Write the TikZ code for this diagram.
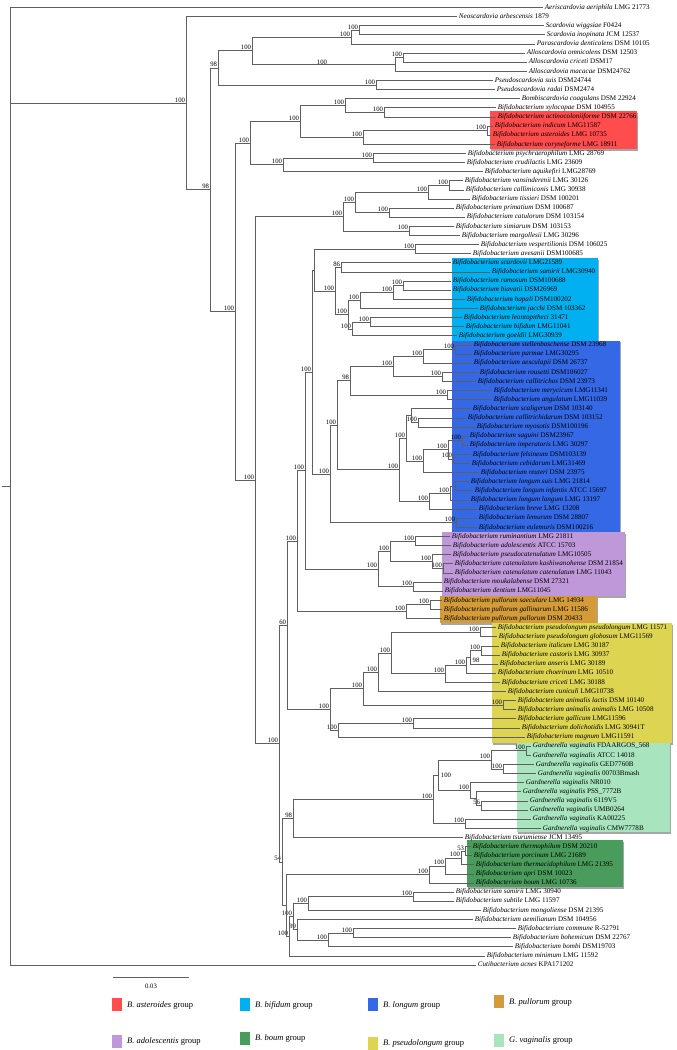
\documentclass[tikz,border=0pt]{standalone}
\usepackage{fontspec}
\setmainfont{Liberation Serif}
\usetikzlibrary{calc,shadows}
\definecolor{cRed}{RGB}{255,76,76}
\definecolor{cCyan}{RGB}{0,176,240}
\definecolor{cBlue}{RGB}{52,104,228}
\definecolor{cPurple}{RGB}{190,152,216}
\definecolor{cOrange}{RGB}{212,156,56}
\definecolor{cYellow}{RGB}{221,213,82}
\definecolor{cLGreen}{RGB}{168,228,190}
\definecolor{cGreen}{RGB}{74,156,92}
\definecolor{cLine}{RGB}{95,95,95}
\newcommand\bif[2]{\textit{Bifidobacterium #1} #2}
\newcommand\gva[1]{\textit{Gardnerella vaginalis} #1}
\newcommand\tipn[4]{\coordinate (#1) at (#2,{7.4+9.12*(#3-1)});
  \node[tiplab] (#1-l) at ([xshift=2.2pt]#1) {#4};}
\newcommand\inode[5]{\path let \p1=(#3), \p2=(#4) in ({#2pt},{(\y1+\y2)/2}) coordinate (#1);
  \draw[br] (#1) |- (#3); \draw[br] (#1) |- (#4);
  \node[bs] (#1-b) at ([xshift=-0.8pt,yshift=0.6pt]#1) {#5};}
\tikzset{
  br/.style={draw=cLine, line width=0.55pt},
  tiplab/.style={anchor=west, inner sep=0pt, text height=5.1pt, text depth=1.5pt, font=\fontsize{7.1}{8}\selectfont},
  bs/.style={anchor=south east, inner sep=0pt, font=\fontsize{6.7}{7}\selectfont},
  bsc/.style={inner sep=0pt, font=\fontsize{6.7}{7}\selectfont},
  grp/.style={drop shadow={shadow xshift=1.2pt, shadow yshift=-1.6pt, opacity=0.35, fill=black}},
  legtxt/.style={anchor=west, inner sep=0pt, font=\fontsize{8.5}{10}\selectfont},
}
\begin{document}
\begin{tikzpicture}[x=1pt,y=-1pt]
\useasboundingbox (0,0) rectangle (677,1050);
% group boxes
\fill[cRed,grp] (490,111) rectangle (637,149);
\fill[cCyan,grp] (452,258) rectangle (598,340.5);
\fill[cBlue,grp] (452,340.5) rectangle (620,532);
\fill[cPurple,grp] (442,532) rectangle (625,596);
\fill[cOrange,grp] (440,596) rectangle (597,623);
\fill[cYellow,grp] (492,623) rectangle (672,743);
\fill[cLGreen,grp] (517,743) rectangle (670,832);
\fill[cGreen,grp] (467,840) rectangle (623,887);
% tips
\tipn{t1}{542.5}{1}{\textit{Aeriscardovia aeriphila} LMG 21773}
\tipn{t2}{456.5}{2}{\textit{Neoscardovia arbescensis} 1879}
\tipn{t3}{543.5}{3}{\textit{Scardovia wiggsiae} F0424}
\tipn{t4}{544.5}{4}{\textit{Scardovia inopinata} JCM 12537}
\tipn{t5}{534.5}{5}{\textit{Parascardovia denticolens} DSM 10105}
\tipn{t6}{524.5}{6}{\textit{Alloscardovia omnicolens} DSM 12503}
\tipn{t7}{526.5}{7}{\textit{Alloscardovia criceti} DSM17}
\tipn{t8}{526.5}{8}{\textit{Alloscardovia macacae} DSM24762}
\tipn{t9}{492.5}{9}{\textit{Pseudoscardovia suis} DSM24744}
\tipn{t10}{494.5}{10}{\textit{Pseudoscardovia radai} DSM2474}
\tipn{t11}{519.5}{11}{\textit{Bombiscardovia coagulans} DSM 22924}
\tipn{t12}{495.5}{12}{\bif{xylocopae}{DSM 104955}}
\tipn{t13}{495.5}{13}{\bif{actinocoloniiforme}{DSM 22766}}
\tipn{t14}{492.5}{14}{\bif{indicum}{LMG11587}}
\tipn{t15}{490.5}{15}{\bif{asteroides}{LMG 10735}}
\tipn{t16}{494.5}{16}{\bif{coryneforme}{LMG 18911}}
\tipn{t17}{465.5}{17}{\bif{psychraerophilum}{LMG 28769}}
\tipn{t18}{464.5}{18}{\bif{crudilactis}{LMG 23609}}
\tipn{t19}{482.5}{19}{\bif{aquikefiri}{LMG28769}}
\tipn{t20}{462.5}{20}{\bif{vansinderenii}{LMG 30126}}
\tipn{t21}{463.5}{21}{\bif{callimiconis}{LMG 30938}}
\tipn{t22}{469.5}{22}{\bif{tissieri}{DSM 100201}}
\tipn{t23}{453.5}{23}{\bif{primatium}{DSM 100687}}
\tipn{t24}{464.5}{24}{\bif{catulorum}{DSM 103154}}
\tipn{t25}{453.5}{25}{\bif{simiarum}{DSM 103153}}
\tipn{t26}{459.5}{26}{\bif{margollesii}{LMG 30296}}
\tipn{t27}{478.5}{27}{\bif{vespertilionis}{DSM 106025}}
\tipn{t28}{470.5}{28}{\bif{avesanii}{DSM100685}}
\tipn{t29}{450.5}{29}{\bif{scardovii}{LMG21589}}
\tipn{t30}{489.5}{30}{\bif{samirii}{LMG30940}}
\tipn{t31}{450.5}{31}{\bif{ramosum}{DSM100688}}
\tipn{t32}{450.5}{32}{\bif{biavatii}{DSM26969}}
\tipn{t33}{464.5}{33}{\bif{hapali}{DSM100202}}
\tipn{t34}{477.5}{34}{\bif{jacchi}{DSM 103362}}
\tipn{t35}{461.5}{35}{\bif{leontopitheci}{31471}}
\tipn{t36}{463.5}{36}{\bif{bifidum}{LMG11041}}
\tipn{t37}{456.5}{37}{\bif{goeldii}{LMG30939}}
\tipn{t38}{471.5}{38}{\bif{stellenboschense}{DSM 23968}}
\tipn{t39}{471.5}{39}{\bif{parmae}{LMG30295}}
\tipn{t40}{471.5}{40}{\bif{aesculapii}{DSM 26737}}
\tipn{t41}{477.5}{41}{\bif{rousetti}{DSM106027}}
\tipn{t42}{475.5}{42}{\bif{callitrichos}{DSM 23973}}
\tipn{t43}{491.5}{43}{\bif{merycicum}{LMG11341}}
\tipn{t44}{491.5}{44}{\bif{angulatum}{LMG11039}}
\tipn{t45}{470.5}{45}{\bif{scaligerum}{DSM 103140}}
\tipn{t46}{465.5}{46}{\bif{callitrichidarum}{DSM 103152}}
\tipn{t47}{474.5}{47}{\bif{myosotis}{DSM100196}}
\tipn{t48}{467.5}{48}{\bif{saguini}{DSM23967}}
\tipn{t49}{467.5}{49}{\bif{imperatoris}{LMG 30297}}
\tipn{t50}{470.5}{50}{\bif{felsineum}{DSM103139}}
\tipn{t51}{469.5}{51}{\bif{cebidarum}{LMG31469}}
\tipn{t52}{478.5}{52}{\bif{reuteri}{DSM 23975}}
\tipn{t53}{468.5}{53}{\bif{longum suis}{LMG 21814}}
\tipn{t54}{472.5}{54}{\bif{longum infantis}{ATCC 15697}}
\tipn{t55}{468.5}{55}{\bif{longum longum}{LMG 13197}}
\tipn{t56}{476.5}{56}{\bif{breve}{LMG 13208}}
\tipn{t57}{476.5}{57}{\bif{lemurum}{DSM 28807}}
\tipn{t58}{476.5}{58}{\bif{eulemuris}{DSM100216}}
\tipn{t59}{449.5}{59}{\bif{ruminantium}{LMG 21811}}
\tipn{t60}{450.5}{60}{\bif{adolescentis}{ATCC 15703}}
\tipn{t61}{450.5}{61}{\bif{pseudocatenulatum}{LMG10505}}
\tipn{t62}{452.5}{62}{\bif{catenulatum kashiwanohense}{DSM 21854}}
\tipn{t63}{452.5}{63}{\bif{catenulatum catenulatum}{LMG 11043}}
\tipn{t64}{441.5}{64}{\bif{moukalabense}{DSM 27321}}
\tipn{t65}{442.5}{65}{\bif{dentium}{LMG11045}}
\tipn{t66}{441.5}{66}{\bif{pullorum saeculare}{LMG 14934}}
\tipn{t67}{441.5}{67}{\bif{pullorum gallinarum}{LMG 11586}}
\tipn{t68}{441.5}{68}{\bif{pullorum pullorum}{DSM 20433}}
\tipn{t69}{495.5}{69}{\bif{pseudolongum pseudolongum}{LMG 11571}}
\tipn{t70}{496.5}{70}{\bif{pseudolongum globosum}{LMG11569}}
\tipn{t71}{498.5}{71}{\bif{italicum}{LMG 30187}}
\tipn{t72}{499.5}{72}{\bif{castoris}{LMG 30937}}
\tipn{t73}{497.5}{73}{\bif{anseris}{LMG 30189}}
\tipn{t74}{495.5}{74}{\bif{choerinum}{LMG 10510}}
\tipn{t75}{499.5}{75}{\bif{criceti}{LMG 30188}}
\tipn{t76}{505.5}{76}{\bif{cuniculi}{LMG10738}}
\tipn{t77}{515.5}{77}{\bif{animalis lactis}{DSM 10140}}
\tipn{t78}{515.5}{78}{\bif{animalis animalis}{LMG 10508}}
\tipn{t79}{515.5}{79}{\bif{gallicum}{LMG11596}}
\tipn{t80}{519.5}{80}{\bif{dolichotidis}{LMG 30941T}}
\tipn{t81}{524.5}{81}{\bif{magnum}{LMG11591}}
\tipn{t82}{530.5}{82}{\gva{FDAARGOS\_568}}
\tipn{t83}{530.5}{83}{\gva{ATCC 14018}}
\tipn{t84}{533.5}{84}{\gva{GED7760B}}
\tipn{t85}{535.5}{85}{\gva{00703Bmash}}
\tipn{t86}{523.5}{86}{\gva{NR010}}
\tipn{t87}{520.5}{87}{\gva{PSS\_7772B}}
\tipn{t88}{527.5}{88}{\gva{6119V5}}
\tipn{t89}{527.5}{89}{\gva{UMB0264}}
\tipn{t90}{530.5}{90}{\gva{KA00225}}
\tipn{t91}{540.5}{91}{\gva{CMW7778B}}
\tipn{t92}{462.5}{92}{\bif{tsurumiense}{JCM 13495}}
\tipn{t93}{470.5}{93}{\bif{thermophilum}{DSM 20210}}
\tipn{t94}{471.5}{94}{\bif{porcinum}{LMG 21689}}
\tipn{t95}{473.5}{95}{\bif{thermacidophilum}{LMG 21395}}
\tipn{t96}{473.5}{96}{\bif{apri}{DSM 10023}}
\tipn{t97}{473.5}{97}{\bif{boum}{LMG 10736}}
\tipn{t98}{453.5}{98}{\bif{samirii}{LMG 30940}}
\tipn{t99}{453.5}{99}{\bif{subtile}{LMG 11597}}
\tipn{t100}{480.5}{100}{\bif{mongoliense}{DSM 21395}}
\tipn{t101}{472.5}{101}{\bif{aemilianum}{DSM 104956}}
\tipn{t102}{515.5}{102}{\bif{commune}{R-52791}}
\tipn{t103}{510.5}{103}{\bif{bohemicum}{DSM 22767}}
\tipn{t104}{512.5}{104}{\bif{bombi}{DSM19703}}
\tipn{t105}{484.5}{105}{\bif{minimum}{LMG 11592}}
\tipn{t106}{475.5}{106}{\textit{Cutibacterium acnes} KPA171202}
% top clades
\inode{sc1}{359}{t3}{t4}{100}
\inode{sc2}{351}{sc1}{t5}{100}
\inode{al1}{403}{t6}{t7}{100}
\inode{al2}{395}{al1}{t8}{}
\node[bsc] (al2-b2) at (322,62) {100};
\inode{nD}{252}{sc2}{al2}{100}
\inode{nE}{376}{t9}{t10}{100}
\inode{nC}{218}{nD}{nE}{98}
\inode{X1}{384}{t12}{t13}{100}
\inode{Bx}{345}{t11}{X1}{100}
\inode{I1}{487}{t14}{t15}{100}
\inode{n363}{363}{I1}{t16}{100}
\inode{n300}{300}{Bx}{n363}{100}
\inode{psy}{373}{t17}{t18}{100}
\inode{n283}{283}{psy}{t19}{100}
\inode{n250}{250}{n300}{n283}{100}
\inode{V1}{449}{t20}{t21}{100}
\inode{V2}{428}{V1}{t22}{100}
\inode{V3}{389}{t23}{t24}{100}
\inode{V4}{355}{V2}{V3}{100}
\inode{V5}{409}{t25}{t26}{100}
\inode{V6}{343}{V4}{V5}{100}
% bifidum
\inode{V7}{415}{t27}{t28}{100}
\inode{S1}{341}{t29}{t30}{86}
\inode{S2}{403}{t31}{t32}{100}
\inode{S3}{393}{S2}{t33}{100}
\inode{S4}{360}{S3}{t34}{100}
\inode{S5}{370}{t35}{t36}{100}
\inode{S6}{352}{S5}{t37}{100}
\inode{S7}{348}{S4}{S6}{100}
\inode{S9}{335}{S1}{S7}{100}
\inode{Q}{314}{V7}{S9}{}
% longum
\inode{L1}{455}{t38}{t39}{100}
\inode{L2}{423}{L1}{t40}{100}
\inode{L3}{442}{t41}{t42}{100}
\inode{L4}{393}{L2}{L3}{100}
\inode{L5}{447}{t43}{t44}{100}
\inode{L6}{350}{L4}{L5}{98}
\inode{L7}{418}{t46}{t47}{100}
\inode{L8}{411}{t45}{L7}{}
\inode{L9}{462}{t48}{t49}{100}
\inode{L10}{453}{t50}{t51}{100}
\inode{L11}{448}{L9}{L10}{100}
\inode{L12}{423}{L11}{t52}{100}
\inode{L17}{406}{L8}{L12}{100}
\inode{L13}{455}{t53}{t54}{}
\inode{L14}{450}{L13}{t55}{100}
\inode{L15}{429}{L14}{t56}{100}
\inode{L16}{399}{L17}{L15}{100}
\inode{L19}{337}{L6}{L16}{100}
\inode{L18}{456}{t57}{t58}{100}
\inode{L330}{330}{L19}{L18}{100}
\inode{P312}{312}{Q}{L330}{100}
% adolescentis / pullorum
\inode{Ad1}{415}{t59}{t60}{100}
\inode{Ad2}{443}{t62}{t63}{100}
\inode{Ad3}{432}{t61}{Ad2}{100}
\inode{Ad4}{390}{Ad1}{Ad3}{100}
\inode{Ad5}{413}{t64}{t65}{100}
\inode{A378}{378}{Ad4}{Ad5}{100}
\inode{P305}{305}{P312}{A378}{100}
\inode{Pu1}{430}{t66}{t67}{100}
\inode{Pu2}{406}{Pu1}{t68}{100}
\inode{P297}{297}{P305}{Pu2}{100}
% pseudolongum
\inode{Ps1}{480}{t69}{t70}{100}
\inode{Ps2}{481}{t71}{t72}{100}
\inode{Ps3}{470}{Ps2}{t73}{}
\node[bsc] (Ps3-b2) at (476,660) {98};
\inode{Ps4}{466}{Ps3}{t74}{100}
\inode{Ps5}{445}{Ps4}{t75}{100}
\inode{Ps6}{391}{Ps1}{Ps5}{100}
\inode{Ps7}{378}{Ps6}{t76}{100}
\inode{An1}{503}{t77}{t78}{100}
\inode{Ps8}{363}{Ps7}{An1}{100}
\inode{Ga1}{413}{t79}{t80}{100}
\inode{Ga2}{338}{Ga1}{t81}{100}
\inode{Ps9}{330}{Ps8}{Ga2}{100}
\inode{N60}{287}{P297}{Ps9}{60}
% gardnerella
\inode{G1}{526}{t82}{t83}{100}
\inode{G2}{503}{t84}{t85}{100}
\inode{G3}{491}{G1}{G2}{100}
\inode{G5}{481}{t88}{t89}{56}
\inode{G6}{476}{t87}{G5}{}
\inode{G4}{470}{t86}{G6}{100}
\inode{G7}{438}{G3}{G4}{}
\node[bsc] (G7-b2) at (446,775) {100};
\inode{G9}{465}{t90}{t91}{100}
\inode{G8}{433}{G7}{G9}{100}
\inode{N98}{293}{G8}{t92}{98}
% boum
\inode{B53}{465}{t93}{t94}{53}
\inode{B461}{461}{B53}{t95}{100}
\inode{B445}{445}{B461}{t96}{100}
\inode{B429}{429}{B445}{t97}{100}
% bottom
\inode{b413}{413}{t98}{t99}{100}
\inode{b308}{308}{b413}{t100}{100}
\inode{b353}{353}{t102}{t103}{100}
\inode{b328}{328}{b353}{t104}{100}
\inode{n288}{297}{t101}{b328}{99}
\inode{n283b}{293}{b308}{n288}{100}
\inode{n275}{289}{n283b}{t105}{100}
\inode{nN}{286}{B429}{n275}{}
\inode{N54}{282}{N98}{nN}{54}
\inode{n279}{279}{N60}{N54}{100}
\inode{n255}{255}{V6}{n279}{100}
\inode{n235}{235}{n250}{n255}{100}
\inode{nB}{210}{nC}{n235}{98}
\inode{nA}{186}{t2}{nB}{100}
% root
\coordinate (root) at (10,486.2);
\coordinate (rootstub) at (2,486.2);
\draw[br] (rootstub) -- (root);
\draw[br] (root) |- (t1);
\draw[br] (root) |- (nA);
\draw[br] (root) |- (t106);
% scale bar
\coordinate (sbL) at (113,977);
\coordinate (sbR) at (189,977);
\draw[br] (sbL) -- (sbR);
\node[bsc] (sbtxt) at (151,986) {0.03};
% legend
\fill[cRed] (112,998) rectangle (122,1011);
\node[legtxt] (lg1) at (127,1005) {\textit{B. asteroides} group};
\fill[cCyan] (240,998) rectangle (250,1011);
\node[legtxt] (lg2) at (255,1005) {\textit{B. bifidum} group};
\fill[cBlue] (368,998) rectangle (378,1011);
\node[legtxt] (lg3) at (383,1005) {\textit{B. longum} group};
\fill[cOrange] (494,995) rectangle (504,1008);
\node[legtxt] (lg4) at (509,1002) {\textit{B. pullorum} group};
\fill[cPurple] (112,1035) rectangle (122,1048);
\node[legtxt] (lg5) at (127,1041) {\textit{B. adolescentis} group};
\fill[cGreen] (240,1032) rectangle (250,1045);
\node[legtxt] (lg6) at (255,1038) {\textit{B. boum} group};
\fill[cYellow] (368,1037) rectangle (378,1050);
\node[legtxt] (lg7) at (383,1043) {\textit{B. pseudolongum} group};
\fill[cLGreen] (494,1034) rectangle (504,1047);
\node[legtxt] (lg8) at (509,1040) {\textit{G. vaginalis} group};
\end{tikzpicture}
\end{document}
